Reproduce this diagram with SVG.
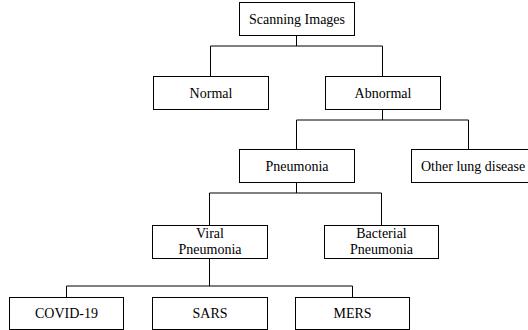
<svg xmlns="http://www.w3.org/2000/svg" width="528" height="330" viewBox="0 0 528 330">
<style>
rect{fill:#fff;stroke:#000;stroke-width:1}
text{font-family:"Liberation Serif","Times New Roman",serif;font-size:14px;fill:#000;text-anchor:middle}
.c path{fill:none;stroke:#000;stroke-width:1}
</style>
<rect x="0" y="0" width="528" height="330" style="stroke:none"/>
<g class="c" id="connectors">
<path d="M296.5 35V46M210.5 76V46H382.5V76"/>
<path d="M382.5 109V120M296.5 149V120H468.5V149"/>
<path d="M296.5 182V193M209.5 225V193H381.5V225"/>
<path d="M209.5 258V286M66.5 297V286H352.5V297"/>
</g>
<g id="scanning"><rect x="239.5" y="2.5" width="115" height="33"/><text x="297" y="23.5">Scanning Images</text></g>
<g id="normal"><rect x="153.5" y="76.5" width="115" height="33"/><text x="211" y="97.5">Normal</text></g>
<g id="abnormal"><rect x="325.5" y="76.5" width="115" height="33"/><text x="383" y="97.5">Abnormal</text></g>
<g id="pneumonia"><rect x="239.5" y="149.5" width="115" height="33"/><text x="297" y="170.5">Pneumonia</text></g>
<g id="other"><rect x="411.5" y="149.5" width="125" height="33"/><text x="421" y="170.5" style="text-anchor:start">Other lung disease</text></g>
<g id="viral"><rect x="152.5" y="225.5" width="115" height="33"/><text x="210" y="237.5">Viral</text><text x="210" y="254">Pneumonia</text></g>
<g id="bacterial"><rect x="324.5" y="225.5" width="114" height="33"/><text x="381.5" y="237.5">Bacterial</text><text x="381.5" y="254">Pneumonia</text></g>
<g id="covid"><rect x="9.5" y="297.5" width="114" height="32"/><text x="66.5" y="318">COVID-19</text></g>
<g id="sars"><rect x="152.5" y="297.5" width="115" height="32"/><text x="210" y="318">SARS</text></g>
<g id="mers"><rect x="295.5" y="297.5" width="114" height="32"/><text x="352.5" y="318">MERS</text></g>
</svg>
